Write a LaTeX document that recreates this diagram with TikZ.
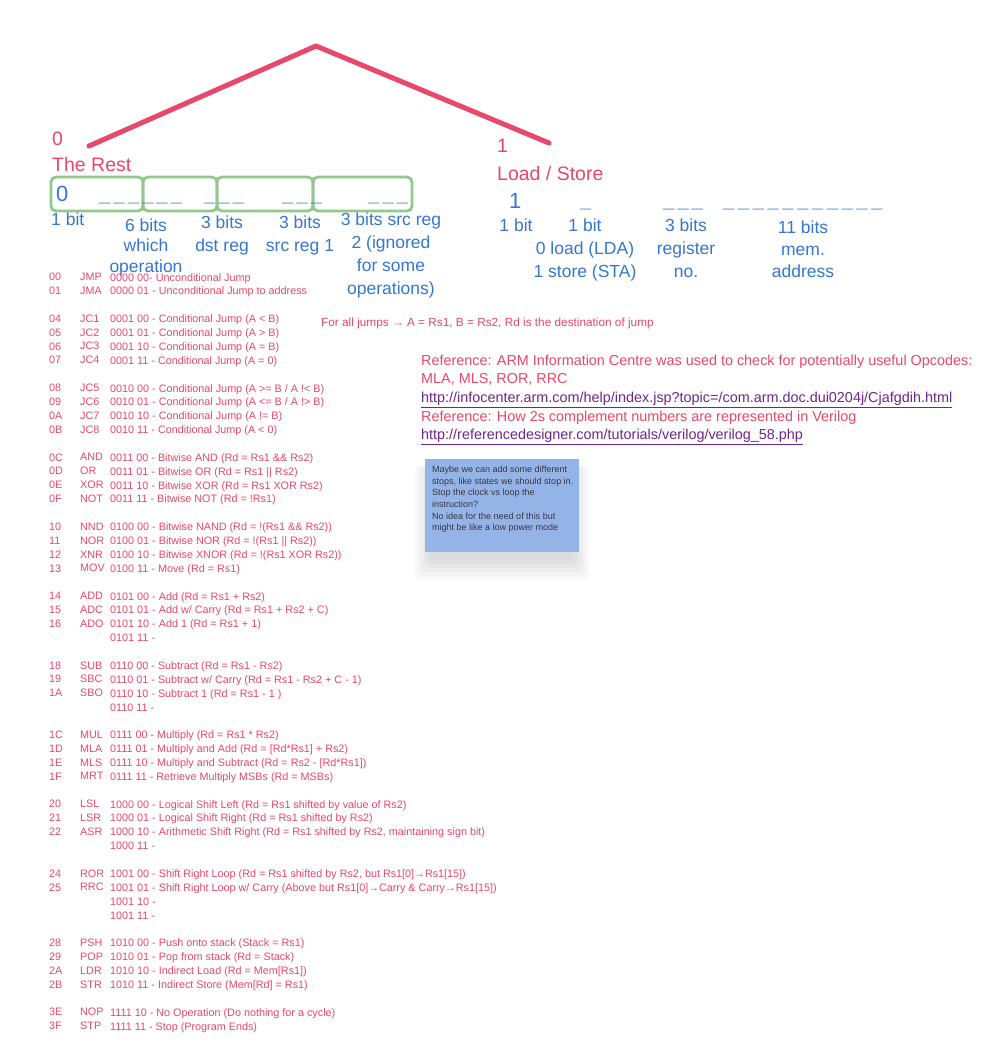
\documentclass[tikz,border=0pt]{standalone}
\usepackage{fontspec}
\setmainfont{Liberation Sans}
\usepackage{tikz}
\usetikzlibrary{positioning}
\usepackage{xcolor}
\definecolor{rose}{RGB}{232,72,106}
\definecolor{sky}{RGB}{52,120,206}
\definecolor{leaf}{RGB}{146,200,140}
\definecolor{memo}{RGB}{148,180,232}
\definecolor{link}{RGB}{110,38,140}
\definecolor{ink}{RGB}{55,55,65}

\begin{document}
\begin{tikzpicture}[x=1pt, y=-1pt,
        heading/.style={text=rose, font=\fontsize{19.5}{23}\selectfont, anchor=base west, inner sep=0pt},
        field/.style={draw=leaf, line width=2.8pt, rounded corners=5pt, minimum height=34pt, inner sep=0pt},
        digit/.style={text=sky, font=\fontsize{22}{26}\selectfont, anchor=base west, inner sep=0pt},
        blanks/.style={text=sky, font=\bfseries\fontsize{20}{24}\selectfont, anchor=base west, inner sep=0pt},
        bits/.style={text=sky, font=\fontsize{17.5}{23}\selectfont, align=center, anchor=north, inner sep=0pt},
        oplist/.style={text=rose, font=\fontsize{10.8}{13.87}\selectfont, align=left, anchor=north west, inner sep=0pt},
        remark/.style={text=rose, align=left, anchor=north west, inner sep=0pt},
        sticky/.style={fill=memo, minimum width=154pt, minimum height=93pt, inner sep=0pt, anchor=north west},
        haze/.style={fill=black, opacity=0.025, rounded corners=6pt}
      ]
        \useasboundingbox[fill=white] (0,0) rectangle (996,1058);

        % first bit splits the formats
        \coordinate (apex) at (316,46);
        \coordinate (restend) at (89,146);
        \coordinate (lsend) at (549,143);
        \draw[rose, line width=5pt, line cap=round, line join=round] (restend) -- (apex) -- (lsend);

        \node[heading] (zero) at (52,145) {0};
        \node[heading] (rest) at (52,171) {The Rest};
        \node[heading] (one) at (497,152) {1};
        \node[heading] (loadstore) at (497,180) {Load / Store};

        % the rest: register format
        \node[field, minimum width=92pt] (opbit) at (97,194) {};
        \node[field, minimum width=74pt] (opcode) at (180,194) {};
        \node[field, minimum width=96pt] (dstreg) at (265,194) {};
        \node[field, minimum width=99pt] (srcreg) at (362.5,194) {};

        \node[digit] (opzero) at (56,201) {0};
        \node[blanks] (opblank) at (99,201) {\_\kern3.2pt\_\kern3.2pt\_\kern3.2pt\_\kern3.2pt\_\kern3.2pt\_};
        \node[blanks] (dstblank) at (204,201) {\_\kern3.2pt\_\kern3.2pt\_};
        \node[blanks] (srcblank) at (282,201) {\_\kern3.2pt\_\kern3.2pt\_};
        \node[blanks] (src2blank) at (368,201) {\_\kern3.2pt\_\kern3.2pt\_};

        \node[bits, anchor=north west] (bitone) at (51,212.5) {1 bit};
        \node[bits, font=\fontsize{17.5}{20.5}\selectfont] (bitops) at (146,218.5) {6 bits\\which\\operation};
        \node[bits] (bitdst) at (222,215.5) {3 bits\\dst reg};
        \node[bits] (bitsrc) at (300,215.5) {3 bits\\src reg 1};
        \node[bits] (bitsrc2) at (391,212.5) {3 bits src reg\\2 (ignored\\for some\\operations)};

        % load / store format
        \node[digit] (lsone) at (509,208) {1};
        \node[blanks] (lsblank) at (580,207) {\_};
        \node[blanks] (regblank) at (663,207) {\_\kern3.2pt\_\kern3.2pt\_};
        \node[blanks] (addrblank) at (723,207) {\_\kern3.7pt\_\kern3.7pt\_\kern3.7pt\_\kern3.7pt\_\kern3.7pt\_\kern3.7pt\_\kern3.7pt\_\kern3.7pt\_\kern3.7pt\_\kern3.7pt\_};

        \node[bits] (lsbit) at (516,218.5) {1 bit};
        \node[bits] (lsmode) at (585,218.5) {1 bit\\0 load (LDA)\\1 store (STA)};
        \node[bits] (lsreg) at (686,218.5) {3 bits\\register\\no.};
        \node[bits, font=\fontsize{17.5}{22}\selectfont] (lsaddr) at (803,221) {11 bits\\mem.\\address};

        % opcode table
        \node[oplist] (codes) at (49,273) {00\\01\\[13.87pt]04\\05\\06\\07\\[13.87pt]08\\09\\0A\\0B\\[13.87pt]0C\\0D\\0E\\0F\\[13.87pt]10\\11\\12\\13\\[13.87pt]14\\15\\16\\[27.74pt]18\\19\\1A\\[27.74pt]1C\\1D\\1E\\1F\\[13.87pt]20\\21\\22\\[27.74pt]24\\25\\[41.61pt]28\\29\\2A\\2B\\[13.87pt]3E\\3F};
        \node[oplist] (mnems) at (80,273) {JMP\\JMA\\[13.87pt]JC1\\JC2\\JC3\\JC4\\[13.87pt]JC5\\JC6\\JC7\\JC8\\[13.87pt]AND\\OR\\XOR\\NOT\\[13.87pt]NND\\NOR\\XNR\\MOV\\[13.87pt]ADD\\ADC\\ADO\\[27.74pt]SUB\\SBC\\SBO\\[27.74pt]MUL\\MLA\\MLS\\MRT\\[13.87pt]LSL\\LSR\\ASR\\[27.74pt]ROR\\RRC\\[41.61pt]PSH\\POP\\LDR\\STR\\[13.87pt]NOP\\STP};
        \node[oplist] (descs) at (110,273) {0000 00- Unconditional Jump\\
          0000 01 - Unconditional Jump to address\\[13.87pt]
          0001 00 - Conditional Jump (A < B)\\
          0001 01 - Conditional Jump (A > B)\\
          0001 10 - Conditional Jump (A = B)\\
          0001 11 - Conditional Jump (A = 0)\\[13.87pt]
          0010 00 - Conditional Jump (A >= B / A !< B)\\
          0010 01 - Conditional Jump (A <= B / A !> B)\\
          0010 10 - Conditional Jump (A != B)\\
          0010 11 - Conditional Jump (A < 0)\\[13.87pt]
          0011 00 - Bitwise AND (Rd = Rs1 \&\& Rs2)\\
          0011 01 - Bitwise OR (Rd = Rs1 || Rs2)\\
          0011 10 - Bitwise XOR (Rd = Rs1 XOR Rs2)\\
          0011 11 - Bitwise NOT (Rd = !Rs1)\\[13.87pt]
          0100 00 - Bitwise NAND (Rd = !(Rs1 \&\& Rs2))\\
          0100 01 - Bitwise NOR (Rd = !(Rs1 || Rs2))\\
          0100 10 - Bitwise XNOR (Rd = !(Rs1 XOR Rs2))\\
          0100 11 - Move (Rd = Rs1)\\[13.87pt]
          0101 00 - Add (Rd = Rs1 + Rs2)\\
          0101 01 - Add w/ Carry (Rd = Rs1 + Rs2 + C)\\
          0101 10 - Add 1 (Rd = Rs1 + 1)\\
          0101 11 -\\[13.87pt]
          0110 00 - Subtract (Rd = Rs1 - Rs2)\\
          0110 01 - Subtract w/ Carry (Rd = Rs1 - Rs2 + C - 1)\\
          0110 10 - Subtract 1 (Rd = Rs1 - 1 )\\
          0110 11 -\\[13.87pt]
          0111 00 - Multiply (Rd = Rs1 * Rs2)\\
          0111 01 - Multiply and Add (Rd = [Rd*Rs1] + Rs2)\\
          0111 10 - Multiply and Subtract (Rd = Rs2 - [Rd*Rs1])\\
          0111 11 - Retrieve Multiply MSBs (Rd = MSBs)\\[13.87pt]
          1000 00 - Logical Shift Left (Rd = Rs1 shifted by value of Rs2)\\
          1000 01 - Logical Shift Right (Rd = Rs1 shifted by Rs2)\\
          1000 10 - Arithmetic Shift Right (Rd = Rs1 shifted by Rs2, maintaining sign bit)\\
          1000 11 -\\[13.87pt]
          1001 00 - Shift Right Loop (Rd = Rs1 shifted by Rs2, but Rs1[0]→Rs1[15])\\
          1001 01 - Shift Right Loop w/ Carry (Above but Rs1[0]→Carry \& Carry→Rs1[15])\\
          1001 10 -\\
          1001 11 -\\[13.87pt]
          1010 00 - Push onto stack (Stack = Rs1)\\
          1010 01 - Pop from stack (Rd = Stack)\\
          1010 10 - Indirect Load (Rd = Mem[Rs1])\\
          1010 11 - Indirect Store (Mem[Rd] = Rs1)\\[13.87pt]
          1111 10 - No Operation (Do nothing for a cycle)\\
          1111 11 - Stop (Program Ends)};

        % notes on the right
        \node[remark, font=\fontsize{11.8}{13}\selectfont] (jumpnote) at (321,318) {For all jumps → A = Rs1, B = Rs2, Rd is the destination of jump};
        \node[remark, font=\fontsize{14.4}{18.7}\selectfont] (refs) at (421,354.5) {Reference: ARM Information Centre was used to check for potentially useful Opcodes:\\
          MLA, MLS, ROR, RRC\\
          \textcolor{link}{\underline{http://infocenter.arm.com/help/index.jsp?topic=/com.arm.doc.dui0204j/Cjafgdih.html}}\\
          Reference: How 2s complement numbers are represented in Verilog\\
          \textcolor{link}{\underline{http://referencedesigner.com/tutorials/verilog/verilog\_58.php}}};

        % sticky note with a soft shadow
        \fill[haze] (415,466) rectangle (589,580);
        \fill[haze] (418,466) rectangle (586,576);
        \fill[haze] (421,466) rectangle (583,572);
        \fill[haze] (424,466) rectangle (580,568);
        \fill[haze] (427,466) rectangle (577,564);
        \fill[haze] (430,466) rectangle (574,560);
        \node[sticky] (memo) at (425,459) {};
        \node[remark, text=ink, font=\fontsize{9}{11.6}\selectfont] (memotext) [below right=7pt and 7pt of memo.north west] {Maybe we can add some different\\stops, like states we should stop in.\\Stop the clock vs loop the\\instruction?\\No idea for the need of this but\\might be like a low power mode};
      \end{tikzpicture}
\end{document}
